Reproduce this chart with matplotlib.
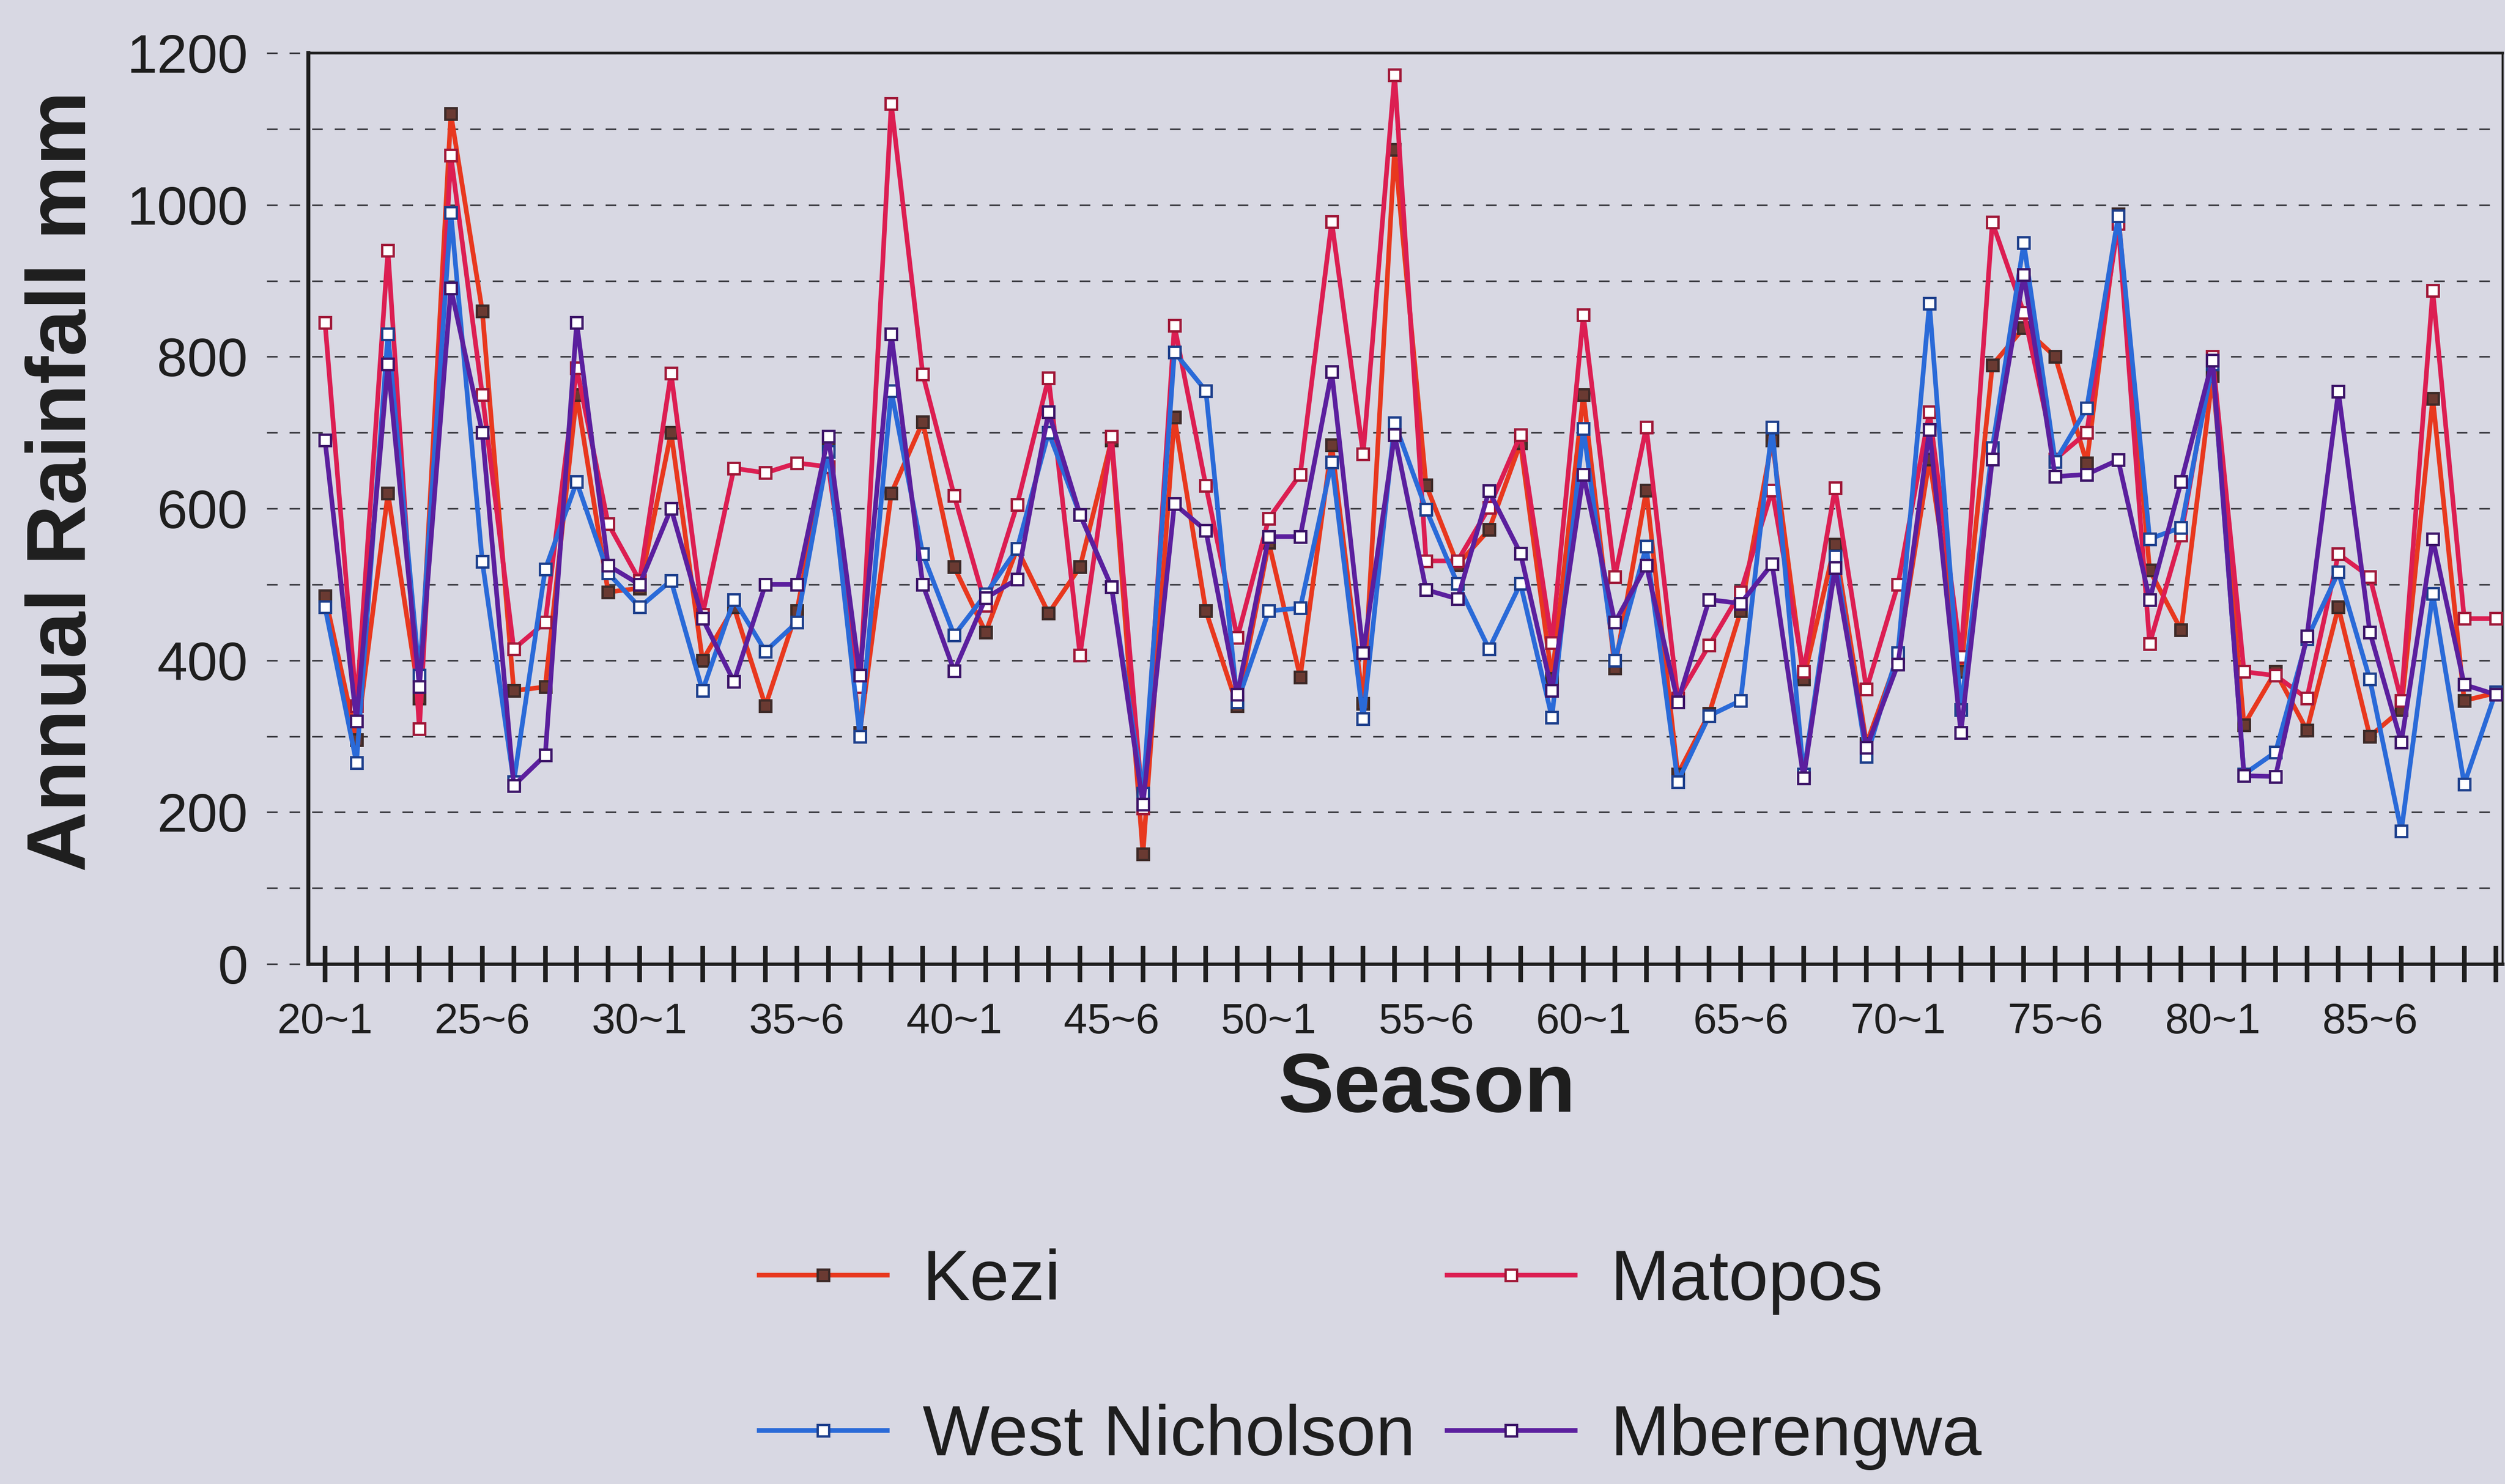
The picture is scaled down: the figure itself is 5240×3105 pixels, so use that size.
import matplotlib
matplotlib.use('Agg')
import matplotlib.pyplot as plt

plt.rcParams['font.family'] = ['Liberation Sans', 'DejaVu Sans']
plt.rcParams['lines.scale_dashes'] = False

# Seasons 20~1 ... 89~90, one point per season
seasons = list(range(70))
tick_labels = ['20~1', '25~6', '30~1', '35~6', '40~1', '45~6', '50~1',
               '55~6', '60~1', '65~6', '70~1', '75~6', '80~1', '85~6']

# Annual rainfall (mm)
kezi = [485, 295, 620, 350, 1120, 860, 360, 365, 750, 490,
        495, 700, 400, 470, 340, 465, 685, 305, 620, 714,
        523, 437, 547, 462, 523, 690, 145, 720, 465, 340,
        555, 378, 684, 343, 1073, 631, 526, 572, 686, 376,
        750, 390, 624, 250, 330, 465, 690, 375, 553, 290,
        405, 665, 385, 789, 838, 800, 660, 988, 519, 440,
        775, 315, 385, 308, 470, 300, 335, 745, 347, 357]

matopos = [845, 340, 940, 310, 1065, 750, 415, 450, 785, 580,
           505, 778, 460, 653, 647, 660, 655, 365, 1133, 777,
           617, 472, 605, 772, 407, 695, 205, 841, 630, 430,
           587, 645, 978, 672, 1171, 531, 531, 601, 697, 423,
           855, 510, 707, 350, 420, 490, 624, 385, 627, 362,
           500, 727, 405, 977, 858, 665, 700, 975, 422, 565,
           800, 385, 380, 350, 540, 510, 347, 887, 455, 455]

west_nicholson = [470, 265, 830, 380, 990, 530, 240, 520, 635, 515,
                  470, 505, 360, 480, 412, 450, 675, 300, 755, 540,
                  433, 487, 547, 700, 592, 497, 225, 806, 755, 345,
                  465, 469, 661, 323, 713, 599, 501, 415, 501, 325,
                  705, 400, 550, 240, 327, 347, 707, 250, 537, 273,
                  410, 870, 335, 680, 950, 662, 732, 985, 560, 575,
                  790, 250, 279, 428, 516, 375, 175, 488, 237, 358]

mberengwa = [690, 320, 790, 365, 890, 700, 235, 275, 845, 525,
             500, 600, 455, 372, 500, 500, 695, 380, 830, 500,
             386, 482, 507, 727, 592, 497, 210, 606, 571, 355,
             563, 563, 780, 410, 697, 493, 481, 623, 541, 360,
             645, 450, 525, 345, 480, 475, 527, 245, 522, 285,
             395, 704, 305, 665, 908, 642, 645, 664, 480, 635,
             795, 248, 247, 432, 754, 437, 292, 560, 368, 355]

bg = '#d8d8e3'
ink = '#1e1e1e'

fig = plt.figure(figsize=(52.4, 31.05), dpi=100, facecolor=bg)
ax = fig.add_axes([645 / 5240, 1 - 2017 / 3105, (5235 - 645) / 5240, (2017 - 111) / 3105])
ax.set_facecolor(bg)

# dashed horizontal grid every 100 mm, poking out left of the axis
for v in range(0, 1201, 100):
    ax.plot([-0.019, 1], [v, v], transform=ax.get_yaxis_transform(), clip_on=False,
            color='#3a3a40', lw=2.4, linestyle=(0, (16, 18)), zorder=1)

line_kw = dict(lw=7.0, marker='s', markersize=17, markeredgewidth=3.5, zorder=3)
l_kezi, = ax.plot(seasons, kezi, color='#e8381e', markerfacecolor='#6a3a32',
                  markeredgecolor='#3d2a28', label='Kezi', **line_kw)
l_mat, = ax.plot(seasons, matopos, color='#dc1e52', markerfacecolor='white',
                 markeredgecolor='#a01838', label='Matopos', **line_kw)
l_wn, = ax.plot(seasons, west_nicholson, color='#2a6ad8', markerfacecolor='white',
                markeredgecolor='#1d3f8c', label='West Nicholson', **line_kw)
l_mb, = ax.plot(seasons, mberengwa, color='#5b1f9e', markerfacecolor='white',
                markeredgecolor='#3c1468', label='Mberengwa', **line_kw)

ax.set_xlim(-0.53, 69.22)
ax.set_ylim(0, 1200)

ax.set_yticks(range(0, 1201, 200))
ax.tick_params(axis='y', length=0, labelsize=82, pad=91, colors=ink)

ax.set_xticks(seasons)
ax.set_xticklabels([tick_labels[i // 5] if i % 5 == 0 else '' for i in seasons])
ax.tick_params(axis='x', direction='inout', length=55, width=7, labelsize=64,
               pad=30, colors=ink)

for side, lw in [('left', 6), ('bottom', 5), ('top', 4), ('right', 3)]:
    ax.spines[side].set_linewidth(lw)
    ax.spines[side].set_color(ink)

fig.text(134 / 5240, 1 - 1007 / 3105, 'Annual Rainfall mm', rotation=90,
         fontsize=126, fontweight='bold', ha='center', va='center', color=ink)
fig.text(2984 / 5240, 1 - 2281 / 3105, 'Season', fontsize=126,
         fontweight='bold', ha='center', va='center', color=ink)

fig.legend(handles=[l_kezi, l_wn, l_mat, l_mb], ncol=2, loc='center left',
           bbox_to_anchor=(1588 / 5240, 1 - 2844 / 3105), frameon=False,
           fontsize=107, handlelength=1.8, handletextpad=0.5, columnspacing=0.45,
           labelspacing=1.25, borderpad=0, borderaxespad=0, labelcolor=ink)

fig.savefig('out.png', dpi=100, facecolor=bg)
